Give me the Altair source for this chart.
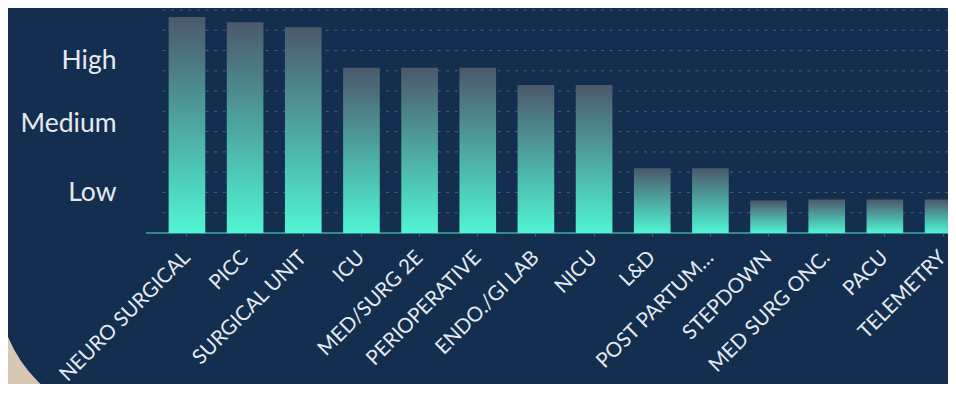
import altair as alt
import pandas as pd

units = ["NEURO SURGICAL", "PICC", "SURGICAL UNIT", "ICU", "MED/SURG 2E",
         "PERIOPERATIVE", "ENDO./GI LAB", "NICU", "L&D", "POST PARTUM\u2026",
         "STEPDOWN", "MED SURG ONC.", "PACU", "TELEMETRY"]
scores = [106.5, 104, 101.5, 81.5, 81.5, 81.5, 73, 73, 32, 32, 16, 16.5, 16.5, 16.5]
grid_values = [10, 20, 30, 40, 50, 60, 70, 80, 90, 100, 110]
level_values = [20, 54, 85]
level_names = ["Low", "Medium", "High"]

NAVY = "#142e50"
BEIGE = "#d9c7b6"
TEAL = "#50f5d4"

df = pd.DataFrame({"unit": units, "score": scores})
grid_df = pd.DataFrame({"v": grid_values})
base_df = pd.DataFrame({"v": [0]})

yscale = alt.Scale(domain=[0, 110], nice=False, zero=True)
xscale = alt.Scale(domain=units, range=[0, 816], paddingInner=0.37, paddingOuter=0.2)

label_expr = " : ".join(
    f"datum.value == {v} ? '{n}'" for v, n in zip(level_values[:-1], level_names[:-1])
) + f" : '{level_names[-1]}'"

y_axis = alt.Axis(values=level_values, labelExpr=label_expr, ticks=False, domain=False,
                  grid=False, title=None, labelFontSize=26.5, labelPadding=41,
                  labelColor="#e6eaf0", labelFont="Lato", zindex=1)

x_axis = alt.Axis(title=None, labelAngle=-45, labelFontSize=20.5, labelFont="Lato",
                  labelColor="#e6eaf0", domain=False, tickColor="#5b6472", tickSize=3,
                  labelPadding=11, labelOffset=-7, labelLimit=400, grid=False, zindex=1)

gradient = alt.Gradient(
    gradient="linear",
    stops=[alt.GradientStop(color="#4b586c", offset=0),
           alt.GradientStop(color=TEAL, offset=1)],
    x1=0, x2=0, y1=0, y2=1,
)

corner = alt.Chart(pd.DataFrame({"a": [0]})).mark_arc(
    color=BEIGE, theta=3.14159265, theta2=4.71238898,
    innerRadius=134, outerRadius=240,
).encode(x=alt.value(-25), y=alt.value(276))

grid = alt.Chart(grid_df).mark_rule(color="#4f5f74", strokeDash=[3, 5.6], strokeWidth=1).encode(
    y=alt.Y("v:Q", scale=yscale, axis=y_axis)
)

baseline = alt.Chart(base_df).mark_rule(color="#52e6c9", strokeWidth=1.2).encode(
    y=alt.Y("v:Q", scale=yscale, axis=y_axis),
    x=alt.value(-11), x2=alt.value(816),
)

bars = alt.Chart(df).mark_bar(color=gradient).encode(
    x=alt.X("unit:N", sort=units, scale=xscale, axis=x_axis),
    y=alt.Y("score:Q", scale=yscale, axis=y_axis),
)

chart = alt.layer(corner, grid, baseline, bars).properties(
    width=791, height=223,
    padding={"left": 149, "top": 2, "right": 0, "bottom": 151},
    autosize=alt.AutoSizeParams(type="none"),
    background=NAVY,
).configure_view(stroke=None)

chart.save("out.html", embed_options={"renderer": "svg", "actions": False})
